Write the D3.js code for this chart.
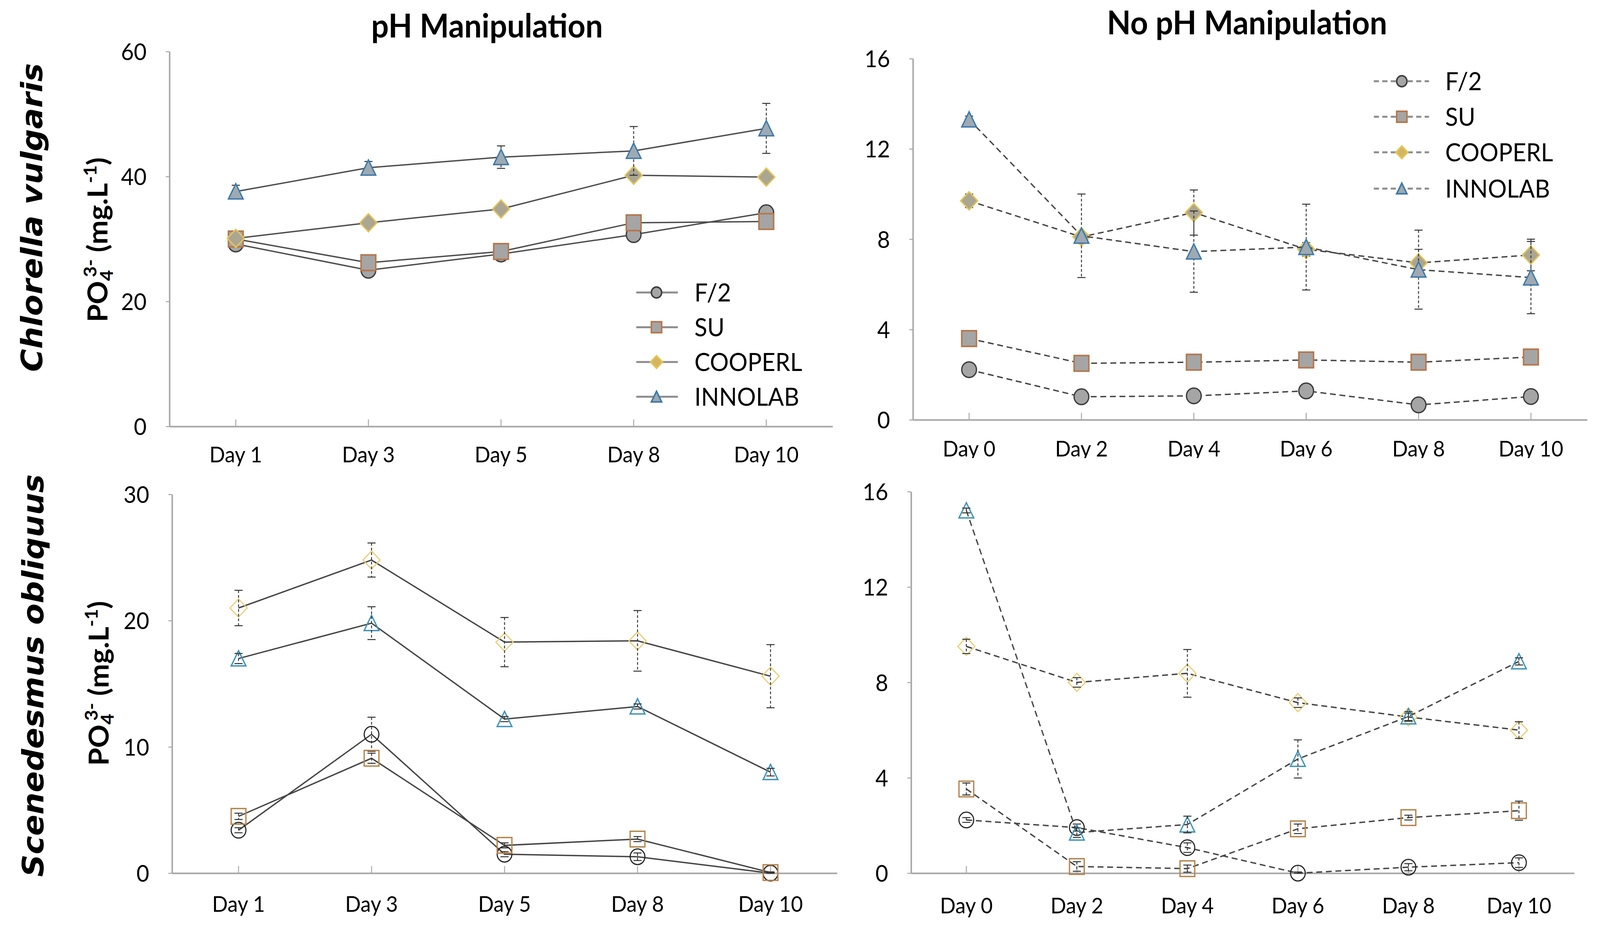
<!DOCTYPE html>
<html>
<head>
<meta charset="utf-8">
<script src="https://cdn.jsdelivr.net/npm/d3@7"></script>
<style>
  html, body { margin: 0; padding: 0; background: #fff; width: 100%; height: 100%; overflow: hidden; }
  #container { width: 100vw; height: 100vh; }
  #container svg { display: block; width: 100vw; height: 100vh; }
</style>
</head>
<body>
<div id="container"></div>
<script>
// Chart size (viewBox units = reference pixels)
const width = 4343;
const height = 2379;

// Categories
const daysPH = ["Day 1", "Day 3", "Day 5", "Day 8", "Day 10"];
const daysNoPH = ["Day 0", "Day 2", "Day 4", "Day 6", "Day 8", "Day 10"];
const seriesNames = ["F/2", "SU", "COOPERL", "INNOLAB"];

// Tick values
const ticksChlPH = [0, 20, 40, 60];
const ticksChlNoPH = [0, 4, 8, 12, 16];
const ticksScePH = [0, 10, 20, 30];
const ticksSceNoPH = [0, 4, 8, 12, 16];

// Chlorella vulgaris, pH manipulation
const chlPH_F2 = [29.2, 25.0, 27.6, 30.7, 34.2];
const chlPH_SU = [30.0, 26.2, 28.0, 32.6, 32.8];
const chlPH_COOPERL = [30.1, 32.6, 34.8, 40.2, 39.9];
const chlPH_INNOLAB = [37.6, 41.4, 43.1, 44.1, 47.7];
const chlPH_F2_err = [0.5, 0.4, 0.4, 0.5, 0.6];
const chlPH_SU_err = [0.4, 0.4, 0.4, 0.6, 0.5];
const chlPH_COOPERL_err = [0.4, 0.4, 0.5, 0.5, 0.4];
const chlPH_INNOLAB_err = [1.0, 1.0, 1.8, 3.9, 4.0];

// Chlorella vulgaris, no pH manipulation
const chlNo_F2 = [2.22, 1.02, 1.06, 1.28, 0.66, 1.03];
const chlNo_SU = [3.6, 2.5, 2.55, 2.65, 2.55, 2.78];
const chlNo_COOPERL = [9.7, 8.1, 9.18, 7.55, 6.95, 7.3];
const chlNo_INNOLAB = [13.3, 8.15, 7.45, 7.65, 6.65, 6.3];
const chlNo_F2_err = [0.1, 0.1, 0.1, 0.1, 0.1, 0.1];
const chlNo_SU_err = [0.15, 0.1, 0.1, 0.1, 0.1, 0.1];
const chlNo_COOPERL_err = [0.3, 0.2, 1.0, 0.3, 0.6, 0.7];
const chlNo_INNOLAB_err = [0.15, 1.85, 1.8, 1.9, 1.75, 1.6];

// Scenedesmus obliquus, pH manipulation
const scePH_F2 = [3.4, 11.0, 1.5, 1.3, 0.0];
const scePH_SU = [4.5, 9.1, 2.2, 2.7, 0.05];
const scePH_COOPERL = [21.0, 24.8, 18.3, 18.4, 15.6];
const scePH_INNOLAB = [17.0, 19.8, 12.2, 13.2, 8.0];
const scePH_F2_err = [0.2, 1.35, 0.2, 0.3, 0.05];
const scePH_SU_err = [0.25, 0.4, 0.2, 0.2, 0.05];
const scePH_COOPERL_err = [1.4, 1.35, 1.95, 2.4, 2.5];
const scePH_INNOLAB_err = [0.4, 1.3, 0.2, 0.2, 0.3];

// Scenedesmus obliquus, no pH manipulation
const sceNo_F2 = [2.23, 1.91, 1.07, 0.0, 0.25, 0.44];
const sceNo_SU = [3.53, 0.28, 0.19, 1.86, 2.33, 2.62];
const sceNo_COOPERL = [9.51, 8.0, 8.38, 7.15, 6.55, 6.0];
const sceNo_INNOLAB = [15.21, 1.7, 2.04, 4.79, 6.57, 8.88];
const sceNo_F2_err = [0.1, 0.15, 0.2, 0.05, 0.15, 0.2];
const sceNo_SU_err = [0.25, 0.2, 0.15, 0.2, 0.1, 0.4];
const sceNo_COOPERL_err = [0.3, 0.2, 1.0, 0.2, 0.15, 0.35];
const sceNo_INNOLAB_err = [0.1, 0.2, 0.35, 0.8, 0.2, 0.15];

const FONT = "Lato, 'Open Sans', sans-serif";

// Marker shapes (size = width across)
const shapes = {
  circle: { draw(ctx, s) { const r = s / 2; ctx.moveTo(r, 0); ctx.arc(0, 0, r, 0, 2 * Math.PI); } },
  square: { draw(ctx, s) { const h = s / 2; ctx.rect(-h, -h, s, s); } },
  diamond: { draw(ctx, s) { const h = s * 0.58; ctx.moveTo(0, -h); ctx.lineTo(h, 0); ctx.lineTo(0, h); ctx.lineTo(-h, 0); ctx.closePath(); } },
  triangle: { draw(ctx, s) { const h = s / 2; ctx.moveTo(0, -h); ctx.lineTo(h, h * 0.95); ctx.lineTo(-h, h * 0.95); ctx.closePath(); } }
};
const shapeOf = ["circle", "square", "diamond", "triangle"];

const filledStyle = [
  { fill: "#a5a5a5", stroke: "#3d3d3d", sw: 3.5 },
  { fill: "#a5a5a5", stroke: "#b6764a", sw: 4 },
  { fill: "#aba692", stroke: "#e4c65a", sw: 3.5 },
  { fill: "#9eaab3", stroke: "#3c78a8", sw: 3.5 }
];
const openStyle = [
  { fill: "none", stroke: "#222222", sw: 3 },
  { fill: "none", stroke: "#b5844c", sw: 3.5 },
  { fill: "none", stroke: "#e6cf78", sw: 3 },
  { fill: "none", stroke: "#3f93b8", sw: 3.5 }
];

const panels = [
  {
    cats: daysPH, ticks: ticksChlPH, max: 60,
    series: [chlPH_F2, chlPH_SU, chlPH_COOPERL, chlPH_INNOLAB],
    errs: [chlPH_F2_err, chlPH_SU_err, chlPH_COOPERL_err, chlPH_INNOLAB_err],
    left: 460, right: 2260, top: 132, bottom: 1092, labelOffset: 92,
    filled: true, dashed: false, lineColor: "#4d4d4d",
    legend: { lineX0: 1727, lineX1: 1840, markX: 1782, textX: 1885, rows: [749, 838, 927, 1016] }
  },
  {
    cats: daysNoPH, ticks: ticksChlNoPH, max: 16,
    series: [chlNo_F2, chlNo_SU, chlNo_COOPERL, chlNo_INNOLAB],
    errs: [chlNo_F2_err, chlNo_SU_err, chlNo_COOPERL_err, chlNo_INNOLAB_err],
    left: 2478, right: 4308, top: 150, bottom: 1075, labelOffset: 94,
    filled: true, dashed: true, lineColor: "#444444", clipBottom: 1173,
    legend: { lineX0: 3729, lineX1: 3879, markX: 3805, textX: 3923, rows: [208, 299, 390, 483] }
  },
  {
    cats: daysPH, ticks: ticksScePH, max: 30,
    series: [scePH_F2, scePH_SU, scePH_COOPERL, scePH_INNOLAB],
    errs: [scePH_F2_err, scePH_SU_err, scePH_COOPERL_err, scePH_INNOLAB_err],
    left: 467, right: 2272, top: 1266, bottom: 2236, labelOffset: 99,
    filled: false, dashed: false, lineColor: "#444444"
  },
  {
    cats: daysNoPH, ticks: ticksSceNoPH, max: 16,
    series: [sceNo_F2, sceNo_SU, sceNo_COOPERL, sceNo_INNOLAB],
    errs: [sceNo_F2_err, sceNo_SU_err, sceNo_COOPERL_err, sceNo_INNOLAB_err],
    left: 2473, right: 4273, top: 1259, bottom: 2236, labelOffset: 103,
    filled: false, dashed: true, lineColor: "#444444"
  }
];

const svg = d3.create("svg")
  .attr("viewBox", `0 0 ${width} ${height}`)
  .attr("preserveAspectRatio", "none")
  .style("font-family", FONT);

svg.append("rect").attr("width", width).attr("height", height).attr("fill", "#fff");

const defs = svg.append("defs");

function drawErrors(g, p, vals, errs, cx, y) {
  const eg = g.append("g").attr("stroke", "#333").attr("fill", "none");
  vals.forEach((v, i) => {
    const xx = cx(p.cats[i]);
    const y0 = y(v + errs[i]);
    const y1 = y(Math.max(0, v - errs[i]));
    eg.append("line").attr("x1", xx).attr("x2", xx).attr("y1", y0).attr("y2", y1)
      .attr("stroke-width", 2.5).attr("stroke-dasharray", "7,5");
    eg.append("line").attr("x1", xx - 11).attr("x2", xx + 11).attr("y1", y0).attr("y2", y0).attr("stroke-width", 2.5);
    eg.append("line").attr("x1", xx - 11).attr("x2", xx + 11).attr("y1", y1).attr("y2", y1).attr("stroke-width", 2.5);
  });
}

panels.forEach((p, pi) => {
  let g = svg.append("g");
  if (p.clipBottom) {
    defs.append("clipPath").attr("id", "clip" + pi)
      .append("rect").attr("x", 2300).attr("y", 0).attr("width", width - 2300).attr("height", p.clipBottom);
    g.attr("clip-path", `url(#clip${pi})`);
  }

  const x = d3.scaleBand().domain(p.cats).range([p.left, p.right]);
  const y = d3.scaleLinear().domain([0, p.max]).range([p.bottom, p.top]);
  const cx = c => x(c) + x.bandwidth() / 2;

  // x axis
  const xa = g.append("g")
    .attr("transform", `translate(0,${p.bottom})`)
    .call(d3.axisBottom(x).tickSizeInner(-18).tickSizeOuter(0));
  xa.select(".domain").attr("stroke", "#a6a6a6").attr("stroke-width", 4);
  xa.selectAll(".tick line").attr("stroke", "#a6a6a6").attr("stroke-width", 2.5);
  xa.selectAll(".tick text")
    .attr("y", p.labelOffset).attr("dy", 0)
    .attr("font-size", 56).attr("font-family", FONT).attr("fill", "#000");

  // y axis
  const ya = g.append("g")
    .attr("transform", `translate(${p.left},0)`)
    .call(d3.axisLeft(y).tickValues(p.ticks).tickSizeInner(10).tickSizeOuter(0).tickPadding(52));
  ya.select(".domain").attr("stroke", "#a6a6a6").attr("stroke-width", 4);
  ya.selectAll(".tick line").attr("stroke", "#a6a6a6").attr("stroke-width", 2.5);
  ya.selectAll(".tick text")
    .attr("dy", "0.36em")
    .attr("font-size", 60).attr("font-family", FONT).attr("fill", "#000");

  const styles = p.filled ? filledStyle : openStyle;
  const line = d3.line().x((d, i) => cx(p.cats[i])).y(d => y(d));

  p.series.forEach((vals, si) => {
    // connecting line
    g.append("path")
      .datum(vals)
      .attr("fill", "none")
      .attr("stroke", p.lineColor)
      .attr("stroke-width", 3.5)
      .attr("stroke-dasharray", p.dashed ? "16,10" : null)
      .attr("d", line);

    // filled markers hide the small error bars behind them
    if (p.filled) drawErrors(g, p, vals, p.errs[si], cx, y);

    const st = styles[si];
    g.append("g").selectAll("path")
      .data(vals)
      .join("path")
      .attr("transform", (d, i) => `translate(${cx(p.cats[i])},${y(d)})`)
      .attr("d", d3.symbol().type(shapes[shapeOf[si]]).size(40))
      .attr("fill", st.fill)
      .attr("stroke", st.stroke)
      .attr("stroke-width", st.sw);

    if (!p.filled) drawErrors(g, p, vals, p.errs[si], cx, y);
  });

  // legend
  if (p.legend) {
    const L = p.legend;
    seriesNames.forEach((name, si) => {
      const ry = L.rows[si];
      g.append("line")
        .attr("x1", L.lineX0).attr("x2", L.lineX1).attr("y1", ry).attr("y2", ry)
        .attr("stroke", "#8c8c8c").attr("stroke-width", 5)
        .attr("stroke-dasharray", p.dashed ? "14,9" : null);
      const st = styles[si];
      g.append("path")
        .attr("transform", `translate(${L.markX},${ry})`)
        .attr("d", d3.symbol().type(shapes[shapeOf[si]]).size(28))
        .attr("fill", si === 2 ? "#d3b65e" : st.fill)
        .attr("stroke", st.stroke)
        .attr("stroke-width", 4);
      g.append("text")
        .attr("x", L.textX).attr("y", ry).attr("dy", "0.36em")
        .attr("font-size", 64).attr("fill", "#000")
        .text(name);
    });
  }
});

// Column titles
svg.append("text").attr("x", 1322).attr("y", 96).attr("text-anchor", "middle")
  .attr("font-size", 84).attr("font-weight", "bold").text("pH Manipulation");
svg.append("text").attr("x", 3385).attr("y", 88).attr("text-anchor", "middle")
  .attr("font-size", 84).attr("font-weight", "bold").text("No pH Manipulation");

// Row (species) labels
const species = [
  { name: "Chlorella vulgaris", x: 115, y: 557 },
  { name: "Scenedesmus obliquus", x: 118, y: 1730 }
];
species.forEach(s => {
  svg.append("text")
    .attr("transform", `translate(${s.x},${s.y}) rotate(-90)`)
    .attr("text-anchor", "middle")
    .attr("font-family", "'DejaVu Sans', sans-serif")
    .attr("font-weight", "bold").attr("font-style", "italic")
    .attr("font-size", 80)
    .text(s.name);
});

// Y axis labels
[{ x: 292, y: 614 }, { x: 295, y: 1750 }].forEach(pos => {
  const t = svg.append("text")
    .attr("transform", `translate(${pos.x},${pos.y}) rotate(-90)`)
    .attr("text-anchor", "middle")
    .attr("font-weight", "bold")
    .attr("font-size", 74);
  t.append("tspan").text("PO");
  t.append("tspan").attr("dy", 14).attr("font-size", 48).text("4");
  t.append("tspan").attr("dy", -44).attr("dx", -18).attr("font-size", 48).text("3-");
  t.append("tspan").attr("dy", 30).text(" (mg.L");
  t.append("tspan").attr("dy", -30).attr("font-size", 48).text("-1");
  t.append("tspan").attr("dy", 30).text(")");
});

document.getElementById("container").append(svg.node());
</script>
</body>
</html>
